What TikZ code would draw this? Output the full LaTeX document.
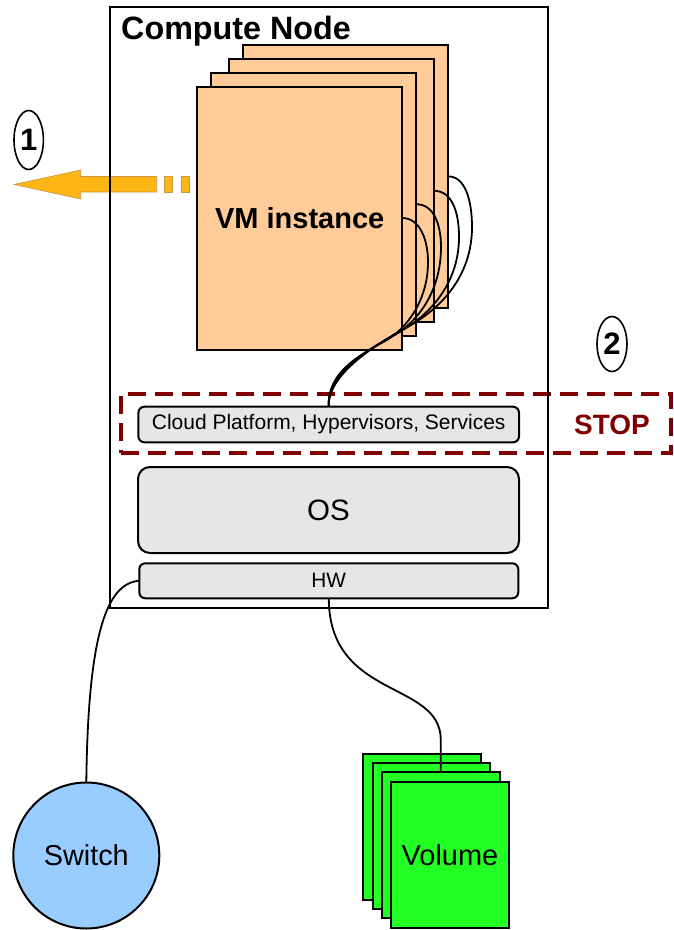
\documentclass[tikz,border=0pt]{standalone}
\usepackage{fontspec}
\setmainfont{Liberation Sans}
\usetikzlibrary{shapes.geometric}
\definecolor{vmfill}{RGB}{255,204,153}
\definecolor{volfill}{RGB}{34,255,34}
\definecolor{swfill}{RGB}{153,204,255}
\definecolor{boxfill}{RGB}{230,230,230}
\definecolor{stopred}{RGB}{128,0,0}
\definecolor{arrowfill}{RGB}{253,182,22}
\definecolor{arrowline}{RGB}{200,150,60}
\newcommand\myfs[1]{\fontsize{#1}{#1}\selectfont}
\begin{document}
\begin{tikzpicture}[x=1pt,y=-1pt,
  rectbox/.style={draw, line width=2, inner sep=0, outer sep=0},
  vmbox/.style={rectbox, fill=vmfill, minimum width=205, minimum height=263},
  volbox/.style={rectbox, fill=volfill, minimum width=117.5, minimum height=146},
  layerbox/.style={rectbox, fill=boxfill},
  numoval/.style={draw, ellipse, line width=1.6, inner sep=0, font=\myfs{31}\bfseries},
  wire/.style={line width=1.8},
  arrowpart/.style={fill=arrowfill, draw=arrowline, line width=0.6}]
\useasboundingbox (0,0) rectangle (673,930);

% migration arrow
\path[arrowpart] (14,184.5) -- (80.7,170) -- (80.7,176.5) -- (156.7,176.5) -- (156.7,192) -- (80.7,192) -- (80.7,199) -- cycle;
\path[arrowpart] (164.3,176.5) rectangle (172.7,192);
\path[arrowpart] (181,176.5) rectangle (189.3,192);
\node[numoval, minimum width=29.4, minimum height=59] (n1) at (28.7,140) {1};

% stop zone
\node[draw=stopred, line width=4, dash pattern=on 18 off 9, inner sep=0, outer sep=0,
      minimum width=550, minimum height=59] (stopzone) at (396,423.5) {};
\node[text=stopred, font=\myfs{28}\bfseries] (stop) at (612,425) {STOP};
\node[numoval, minimum width=30, minimum height=55] (n2) at (612,344) {2};

% compute node
\node[rectbox, minimum width=438, minimum height=600.5] (cn) at (329,307.3) {};
\node[anchor=base west, inner sep=0, font=\myfs{32.3}\bfseries] (cntitle) at (121,39) {Compute Node};

% VM instances
\node[vmbox] (vm4) at (345.5,176.4) {};
\node[vmbox] (vm3) at (331.8,190.8) {};
\node[vmbox] (vm2) at (313.5,204.2) {};
\node[vmbox, font=\myfs{29}\bfseries] (vm1) at (299.7,218) {VM instance};

% layers
\node[layerbox, rounded corners=6, minimum width=380.6, minimum height=35.6, font=\myfs{21}] (cloud) at (328.7,424.5) {Cloud Platform, Hypervisors, Services};
\node[layerbox, rounded corners=12, minimum width=381, minimum height=86, font=\myfs{29.5}] (os) at (328.5,510) {OS};
\node[layerbox, rounded corners=6, minimum width=379, minimum height=35, font=\myfs{20.8}] (hw) at (328.8,580.8) {HW};

% VM links
\draw[wire] (vm1.east) .. controls (420,218) and (428,240) .. (428,262)
  .. controls (428,302) and (405,330) .. (385,341)
  .. controls (360,355) and (327,372) .. (cloud.north);
\draw[wire] (vm2.east) .. controls (434,204) and (441,225) .. (441,247)
  .. controls (441,296) and (413,325) .. (393,336)
  .. controls (368,350) and (327,372) .. (cloud.north);
\draw[wire] (vm3.east) .. controls (452,191) and (459,212) .. (459,237)
  .. controls (459,290) and (421,320) .. (401,331)
  .. controls (376,345) and (327,372) .. (cloud.north);
\draw[wire] (vm4.east) .. controls (465,176) and (472,200) .. (472,227)
  .. controls (472,285) and (429,315) .. (409,326)
  .. controls (384,340) and (327,372) .. (cloud.north);

% switch
\node[draw, circle, line width=2, fill=swfill, minimum size=146, inner sep=0, outer sep=0, font=\myfs{28.8}] (sw) at (86.3,855.5) {Switch};
\draw[wire] (hw.west) .. controls (105,583) and (88,640) .. (sw.north);

% volumes
\node[volbox] (vol4) at (422.2,827) {};
\node[volbox] (vol3) at (431.3,836.3) {};
\draw[wire] (hw.south) .. controls (329,700) and (440.8,680) .. (440.8,740) -- (440.8,772.3);
\node[volbox] (vol2) at (440.8,845.3) {};
\node[volbox, font=\myfs{29}] (vol1) at (450,854.7) {Volume};
\end{tikzpicture}
\end{document}
